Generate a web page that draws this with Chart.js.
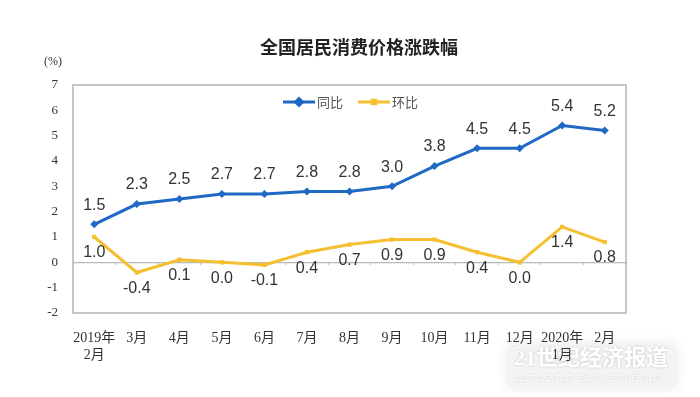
<!DOCTYPE html>
<html>
<head>
<meta charset="utf-8">
<script src="https://cdn.jsdelivr.net/npm/chart.js@4.4.1/dist/chart.umd.min.js"></script>
<style>
html,body{margin:0;padding:0;background:#fff;}
#wrap{position:relative;width:700px;height:397px;}
</style>
</head>
<body>
<div id="wrap"><canvas id="c" width="700" height="397"></canvas></div>
<script>
const categories = [['2019年','2月'],'3月','4月','5月','6月','7月','8月','9月','10月','11月','12月',['2020年','1月'],'2月'];
const yoy = [1.5,2.3,2.5,2.7,2.7,2.8,2.8,3.0,3.8,4.5,4.5,5.4,5.2];
const mom = [1.0,-0.4,0.1,0.0,-0.1,0.4,0.7,0.9,0.9,0.4,0.0,1.4,0.8];
const yTicks = [7,6,5,4,3,2,1,0,-1,-2];
const seriesNames = ['同比','环比'];
const titleText = '全国居民消费价格涨跌幅';
const unitText = '(%)';

const BLUE = '#1f68c4';
const YELLOW = '#f4c032';
const SERIF = '"Liberation Serif","Noto Sans CJK SC",serif';
const SANS = '"Liberation Sans","Noto Sans",sans-serif';
const CJK = '"Noto Sans CJK SC",sans-serif';

const decor = {
  id:'decor',
  beforeDraw(chart){
    const ctx = chart.ctx;
    ctx.save();
    // watermark
    ctx.shadowColor = 'rgba(0,0,0,0.10)';
    ctx.shadowBlur = 12;
    ctx.fillStyle = '#f3f3f3';
    ctx.fillRect(508, 345, 168, 42);
    ctx.shadowBlur = 3;
    ctx.shadowColor = 'rgba(0,0,0,0.18)';
    ctx.fillStyle = '#ffffff';
    ctx.font = 'bold 22px "Liberation Serif","Noto Sans CJK SC",serif';
    ctx.textAlign='left'; ctx.textBaseline='middle';
    ctx.fillText('21世纪经济报道', 514, 359);
    ctx.font = 'italic 8.5px "Liberation Sans",sans-serif';
    ctx.fillText('21ST CENTURY BUSINESS HERALD', 514, 379);
    ctx.restore();
  },
  afterDraw(chart){
    const ctx = chart.ctx, a = chart.chartArea;
    ctx.save();
    ctx.strokeStyle = '#b4b4b4'; ctx.lineWidth = 1.5;
    ctx.strokeRect(a.left, a.top, a.right-a.left, a.bottom-a.top);
    // title
    ctx.fillStyle = '#222';
    ctx.font = 'bold 18px ' + CJK;
    ctx.textAlign='center'; ctx.textBaseline='middle';
    ctx.fillText(titleText, 359, 47);
    // unit
    ctx.font = '12px ' + SERIF;
    ctx.fillStyle = '#333';
    ctx.fillText(unitText, 53, 62);
    // legend
    const items = [{x:283, c:BLUE, s:'rectRot', r:3.5},{x:358, c:YELLOW, s:'rect', r:2.5}];
    items.forEach((it,i)=>{
      const y = 102;
      ctx.strokeStyle = it.c; ctx.lineWidth = 3;
      ctx.beginPath(); ctx.moveTo(it.x, y); ctx.lineTo(it.x+32, y); ctx.stroke();
      Chart.helpers.drawPoint(ctx, {pointStyle: it.s, radius: it.r, borderWidth:1}, it.x+16, y);
      ctx.fillStyle = it.c; ctx.fill();
      ctx.fillStyle = '#555';
      ctx.font = '13px ' + CJK;
      ctx.textAlign='left'; ctx.textBaseline='middle';
      ctx.fillText(seriesNames[i], it.x+34, y);
    });
    ctx.restore();
  },
  afterDatasetsDraw(chart){
    const ctx = chart.ctx;
    ctx.save();
    ctx.font = '16px ' + SANS;
    ctx.fillStyle = '#333';
    ctx.textAlign='center'; ctx.textBaseline='middle';
    chart.data.datasets.forEach((ds, di)=>{
      const meta = chart.getDatasetMeta(di);
      meta.data.forEach((pt, i)=>{
        const v = ds.data[i];
        const dy = di===0 ? -19 : 16;
        ctx.fillText(v.toFixed(1), pt.x, pt.y + dy);
      });
    });
    ctx.restore();
  }
};

new Chart(document.getElementById('c'), {
  type:'line',
  data:{
    labels: categories,
    datasets:[
      {label:seriesNames[0], data:yoy, borderColor:BLUE, backgroundColor:BLUE, borderWidth:3,
       pointStyle:'rectRot', pointRadius:4, pointBorderWidth:0, tension:0},
      {label:seriesNames[1], data:mom, borderColor:YELLOW, backgroundColor:YELLOW, borderWidth:3,
       pointStyle:'rect', pointRadius:3, pointBorderWidth:0, tension:0}
    ]
  },
  options:{
    responsive:false,
    animation:false,
    layout:{padding:{top:85,left:0,right:74,bottom:0}},
    plugins:{legend:{display:false}, title:{display:false}, tooltip:{enabled:false}},
    scales:{
      x:{
        offset:true,
        grid:{display:false},
        border:{display:false},
        ticks:{color:'#333', font:{family:SERIF, size:14, lineHeight:1.2}, padding:9, maxRotation:0, autoSkip:false},
        afterFit(s){ s.height = 84; }
      },
      x2:{
        type:'category',
        labels: categories,
        position:{y:0},
        offset:true,
        grid:{display:true, drawOnChartArea:false, drawTicks:true, tickLength:3, offset:true, color:'#c4c4c4'},
        border:{display:false},
        ticks:{display:false}
      },
      y:{
        min:-2, max:7,
        afterBuildTicks(s){ s.ticks = yTicks.map(v=>({value:v})); },
        grid:{color:(c)=> c.tick && c.tick.value===0 ? '#b8b8b8' : 'rgba(0,0,0,0)', lineWidth:1.2, drawTicks:false},
        border:{display:false},
        ticks:{color:'#333', font:{family:SERIF, size:13}, padding:15},
        afterFit(s){ s.width = 73; }
      }
    }
  },
  plugins:[decor]
});
</script>
</body>
</html>
